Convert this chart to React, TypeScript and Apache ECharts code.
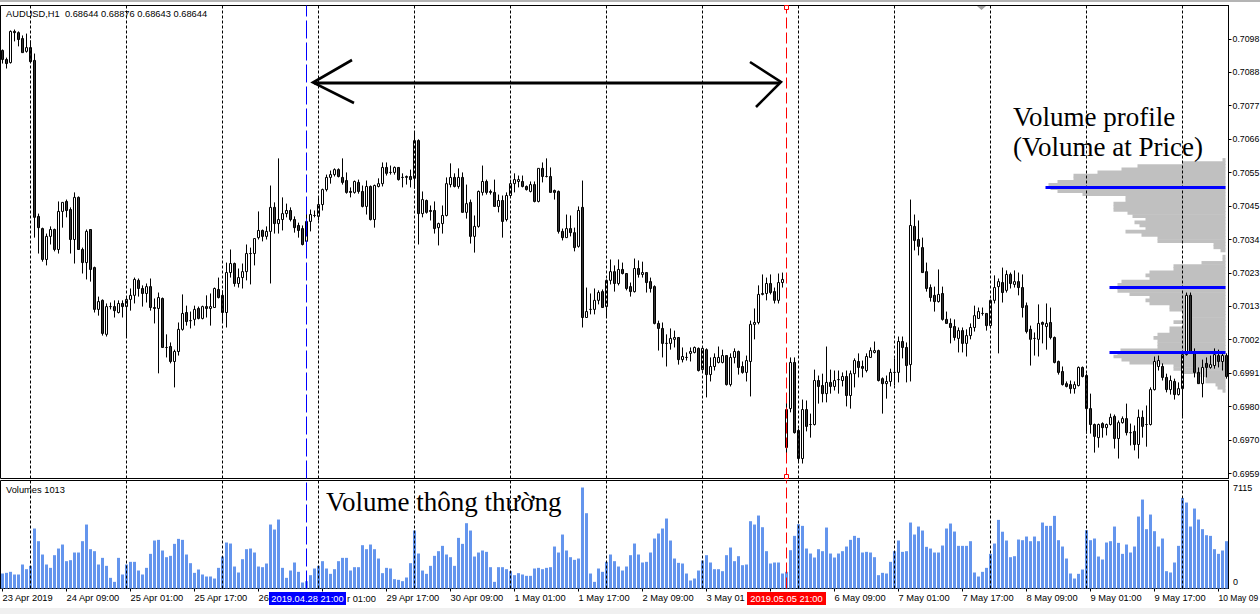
import React, { useEffect, useRef } from 'react';
import * as echarts from 'echarts';

// AUDUSD H1 prices, stored in points (1 point = 0.00001)
const OPEN_PTS = [
  70946,70917,70907,71007,71003,70984,70943,70955,70914,70414,
  70375,70276,70350,70372,70308,70430,70462,70436,70340,70475,
  70308,70266,70372,70250,70116,70145,70036,70125,70125,70106,
  70135,70125,70148,70161,70209,70183,70167,70189,70122,70119,
  70151,69994,69997,69949,69981,70052,70106,70080,70084,70119,
  70087,70125,70119,70122,70180,70161,70106,70234,70263,70199,
  70218,70237,70295,70295,70346,70369,70350,70366,70443,70391,
  70404,70423,70433,70404,70385,70375,70334,70398,70417,70414,
  70452,70500,70539,70548,70564,70539,70529,70494,70491,70523,
  70494,70446,70510,70404,70510,70519,70571,70555,70555,70571,
  70539,70539,70542,70536,70657,70423,70465,70433,70433,70378,
  70391,70417,70516,70539,70510,70539,70427,70459,70350,70382,
  70491,70526,70494,70491,70446,70465,70404,70481,70519,70526,
  70526,70510,70494,70516,70462,70568,70542,70542,70497,70494,
  70366,70346,70375,70362,70318,70443,70090,70116,70116,70145,
  70173,70125,70209,70237,70199,70244,70231,70189,70173,70247,
  70228,70234,70205,70189,70071,70055,70007,70007,70020,70026,
  69955,69962,69975,69978,69991,69923,69987,69907,69933,69946,
  69946,69968,69875,69962,69981,69933,69914,69949,70068,70074,
  70164,70167,70199,70173,70145,70202,69673,69798,69946,69728,
  69638,69795,69747,69747,69888,69872,69846,69882,69869,69891,
  69888,69901,69840,69910,69949,69933,69920,69962,69978,69984,
  69894,69878,69885,69914,69914,70013,69994,69939,70382,70340,
  70314,70237,70186,70161,70141,70167,70084,70071,70061,70023,
  70048,70007,70032,70058,70087,70103,70103,70064,70145,70189,
  70202,70177,70228,70196,70205,70186,70128,70052,70023,70020,
  70074,70061,70074,70026,69949,69917,69878,69875,69862,69872,
  69930,69904,69798,69747,69705,69750,69737,69747,69773,69702,
  69753,69766,69721,69725,69683,69770,69747,69747,69859,69933,
  69933,69898,69859,69885,69843,69862,69971,70161,69978,69914,
  69878,69943,69930,69936,69968,69949,69968,
];
const CLOSE_PTS = [
  70917,70904,71007,71003,70981,70939,70955,70910,70411,70378,
  70276,70350,70372,70308,70430,70459,70433,70340,70475,70308,
  70266,70366,70244,70116,70141,70039,70125,70125,70112,70135,
  70125,70148,70161,70212,70183,70167,70189,70122,70119,70154,
  69994,69994,69949,69981,70052,70103,70077,70080,70116,70087,
  70125,70119,70125,70183,70154,70106,70234,70263,70199,70218,
  70237,70295,70295,70343,70369,70350,70366,70443,70391,70404,
  70423,70433,70404,70378,70369,70324,70398,70420,70417,70452,
  70500,70539,70548,70564,70542,70523,70491,70491,70526,70494,
  70446,70510,70404,70513,70519,70571,70552,70555,70571,70532,
  70539,70542,70532,70657,70423,70468,70427,70430,70375,70391,
  70417,70519,70539,70510,70539,70427,70455,70350,70382,70494,
  70526,70491,70491,70446,70465,70398,70481,70519,70532,70532,
  70510,70500,70516,70462,70568,70542,70542,70491,70491,70366,
  70346,70375,70362,70314,70433,70090,70109,70116,70145,70170,
  70122,70209,70237,70199,70244,70231,70183,70173,70247,70228,
  70234,70202,70183,70071,70055,70007,70007,70023,70026,69955,
  69965,69962,69981,69994,69920,69991,69907,69933,69962,69962,
  69968,69875,69962,69981,69930,69914,69952,70068,70074,70164,
  70167,70199,70170,70145,70202,70212,69795,69946,69721,69638,
  69795,69741,69747,69888,69869,69846,69882,69869,69888,69891,
  69901,69840,69910,69952,69930,69927,69965,69984,69984,69888,
  69878,69885,69914,69914,70013,69994,69936,70385,70337,70318,
  70234,70183,70154,70141,70164,70084,70071,70058,70026,70048,
  70007,70032,70058,70096,70109,70103,70064,70145,70186,70205,
  70170,70228,70199,70205,70186,70122,70045,70020,70023,70071,
  70068,70071,70026,69946,69914,69875,69869,69862,69875,69930,
  69901,69798,69747,69709,69747,69737,69747,69770,69702,69753,
  69766,69721,69721,69683,69770,69741,69747,69859,69949,69952,
  69898,69859,69888,69843,69862,69971,70161,69978,69914,69878,
  69930,69930,69939,69971,69949,69968,69901,
];
const LOW_PTS = [
  70904,70888,70904,70975,70959,70939,70939,70910,70346,70295,
  70269,70257,70324,70302,70295,70378,70411,70295,70263,70308,
  70231,70212,70205,70106,70096,70032,70029,70116,70090,70103,
  70090,70026,70112,70135,70157,70125,70138,70112,70071,69911,
  69994,69962,69943,69866,69968,70048,70064,70055,70064,70084,
  70084,70090,70064,70122,70151,70074,70058,70218,70189,70186,
  70183,70209,70196,70257,70340,70334,70340,70199,70359,70359,
  70369,70411,70398,70362,70346,70321,70324,70366,70411,70401,
  70433,70494,70519,70542,70539,70516,70487,70475,70487,70487,
  70443,70420,70401,70378,70507,70510,70545,70548,70548,70529,
  70507,70516,70507,70503,70324,70411,70423,70401,70359,70321,
  70359,70414,70507,70507,70503,70427,70407,70327,70298,70378,
  70481,70484,70484,70446,70427,70346,70398,70478,70491,70507,
  70507,70497,70491,70459,70459,70523,70539,70491,70468,70359,
  70337,70346,70350,70302,70314,70058,70090,70100,70100,70132,
  70122,70093,70196,70173,70193,70228,70177,70157,70170,70218,
  70218,70170,70170,70068,69984,69962,69933,69987,69994,69939,
  69946,69952,69949,69975,69917,69920,69834,69885,69920,69943,
  69943,69872,69869,69943,69907,69910,69885,69837,70020,70068,
  70161,70145,70164,70135,70135,70186,69648,69786,69718,69625,
  69622,69725,69705,69744,69814,69818,69818,69846,69856,69846,
  69869,69805,69798,69866,69898,69898,69914,69962,69975,69885,
  69782,69830,69869,69872,69882,69959,69882,69885,70305,70289,
  70234,70173,70141,70109,70138,70080,70071,70007,70016,69978,
  69978,69965,70020,70045,70087,70096,70048,70058,70135,69975,
  70138,70170,70183,70186,70161,70090,70039,69936,69968,69965,
  70007,69987,70020,69943,69907,69872,69866,69846,69846,69869,
  69898,69718,69718,69657,69673,69705,69712,69744,69670,69638,
  69750,69712,69680,69664,69638,69705,69676,69744,69856,69920,
  69888,69850,69843,69827,69840,69770,69968,69975,69898,69878,
  69834,69898,69926,69926,69930,69920,69894,
];
const HIGH_PTS = [
  70949,70923,71010,71013,71007,70994,71000,70978,70936,70423,
  70378,70359,70382,70375,70462,70459,70468,70443,70491,70478,
  70314,70372,70372,70253,70157,70148,70135,70138,70145,70145,
  70145,70154,70183,70218,70215,70193,70199,70215,70151,70170,
  70154,70036,70010,69987,70074,70164,70128,70109,70128,70125,
  70128,70161,70167,70186,70218,70177,70266,70308,70266,70247,
  70263,70324,70314,70343,70430,70372,70382,70513,70459,70600,
  70475,70455,70443,70414,70394,70385,70449,70436,70433,70475,
  70503,70548,70561,70568,70568,70600,70555,70507,70529,70532,
  70513,70529,70513,70516,70536,70587,70587,70577,70574,70571,
  70552,70545,70564,70686,70661,70494,70468,70449,70462,70394,
  70449,70539,70584,70552,70568,70555,70516,70468,70417,70497,
  70577,70532,70500,70532,70484,70481,70491,70532,70552,70545,
  70545,70513,70526,70526,70568,70587,70600,70571,70500,70497,
  70375,70420,70417,70378,70446,70529,70186,70167,70183,70177,
  70180,70212,70276,70257,70276,70266,70231,70202,70279,70273,
  70269,70234,70218,70193,70080,70074,70036,70055,70048,70026,
  69994,69978,69994,69997,69994,69994,69991,69962,69975,69997,
  69987,69968,69975,69991,69984,69949,69968,70080,70119,70193,
  70228,70218,70228,70186,70231,70234,69834,69962,69962,69734,
  69827,69824,69782,69923,69904,69910,69997,69923,69920,69920,
  69914,69920,69920,69959,69975,69952,69975,69994,70013,69987,
  69898,69904,69926,69959,70029,70029,70010,70468,70420,70401,
  70346,70266,70196,70189,70244,70189,70109,70087,70084,70058,
  70058,70052,70071,70128,70122,70122,70103,70148,70225,70215,
  70250,70241,70234,70241,70234,70228,70138,70064,70042,70132,
  70077,70135,70122,70029,69952,69933,69885,69888,69885,69933,
  69933,69910,69846,69750,69750,69754,69750,69782,69779,69760,
  69773,69814,69750,69744,69795,69792,69808,69866,69965,69968,
  69943,69910,69904,69894,69882,69975,70170,70170,69991,69930,
  69955,69962,69968,69991,69987,69978,69975,
];
// Tick volume per bar
const VOLUME = [
  1056,1103,1174,986,986,1690,1361,1596,4225,3333,
  2394,1690,1455,2347,2816,3098,1925,1995,2535,2535,
  3333,4506,2769,2629,1690,2159,1596,751,469,2159,
  986,1690,1878,1878,1267,986,1455,2441,3380,3427,
  2676,2206,2300,3145,3497,3427,2394,1784,1103,1338,
  986,845,845,704,1455,2253,3239,3168,1549,1127,
  2065,2769,2816,2535,1549,1502,1760,4506,4154,4858,
  1455,751,1267,1831,1174,422,516,939,1408,1596,
  1925,1408,1033,1361,1925,2159,2159,1267,1502,1502,
  3051,2769,3098,2769,2112,1080,1455,1408,657,610,
  516,775,1784,4084,2464,1267,1033,1596,2300,2629,
  3004,2394,2206,1596,3567,3145,4600,4084,2253,2535,
  2676,2582,1502,469,1502,1502,1361,1220,939,1080,
  986,892,892,1408,1455,1361,1455,1502,2957,2535,
  3802,2676,2206,2018,2112,7115,5304,1056,469,1408,
  1174,1878,2394,1925,1549,1267,1549,2347,3168,2394,
  1831,1878,2535,3521,3873,4225,4929,3380,2112,1807,
  1760,1056,563,704,1267,1971,2347,1831,1361,1361,
  1220,2347,2887,1925,2277,1643,1690,4741,4506,5140,
  4318,2629,1760,1831,1831,1056,1174,2699,3708,4530,
  4412,2816,2464,2183,2769,2629,4295,2464,2183,2464,
  2629,2957,3427,3708,3567,2535,2582,2535,2206,939,
  1103,1056,1878,2629,3380,2582,2629,4647,3802,4365,
  4084,2934,2816,2535,2535,3028,4225,4577,4013,3004,
  3004,3004,3333,1127,845,1174,1455,2441,3168,4835,
  4000,3380,2206,2277,3450,3403,3661,3333,3661,3333,
  4647,4412,4412,5116,3403,2957,2112,1056,704,1033,
  1338,4107,3403,3521,2253,2042,3239,3333,4365,3215,
  2441,3098,2535,2957,5070,6266,4178,5210,4037,2957,
  3521,1220,1127,1831,3004,6384,6055,4365,5633,4858,
  4178,3755,3708,2769,2441,2676,3333,
];
// x axis tick labels, one every 16 bars
const TIME_TICKS = [
  '23 Apr 2019', '24 Apr 09:00', '25 Apr 01:00', '25 Apr 17:00', '26 Apr 09:00',
  '29 Apr 01:00', '29 Apr 17:00', '30 Apr 09:00', '1 May 01:00', '1 May 17:00',
  '2 May 09:00', '3 May 01:00', '3 May 17:00', '6 May 09:00', '7 May 01:00',
  '7 May 17:00', '8 May 09:00', '9 May 01:00', '9 May 17:00', '10 May 09:00',
];
// parts of tick labels left visible (next to the date boxes, and at the right edge)
const PARTIAL_TICKS: Record<number, string> = { 4: '26', 5: '', 11: '3 May 01', 12: '', 19: '{s|10 May 09}' };
const PARTIAL_TAIL = 'r 01:00';
const DAY_STARTS = [7, 31, 55, 79, 103, 127, 151, 175, 199, 223, 247, 271, 295];
const BLUE_BAR = 76;
const BLUE_LABEL = '2019.04.28 21:00';
const RED_BAR = 196;
const RED_LABEL = '2019.05.05 21:00';
const PRICE_TICKS = [0.6959, 0.69697, 0.69804, 0.69911, 0.70019, 0.70126, 0.70233, 0.7034, 0.70447, 0.70554, 0.70662, 0.70769, 0.70876, 0.70983];

// Volume profile (volume at price), bins of 0.0001 starting at 0.6984
const PROFILE_BASE = 0.6984;
const PROFILE_STEP = 0.0001;
const PROFILE_VOL = [
  0,3,8,10,20,20,25,43,52,52,
  96,104,112,108,105,68,68,68,72,68,
  56,56,43,52,43,43,43,56,56,76,
  80,76,96,108,108,108,104,76,80,76,
  52,52,24,3,3,0,5,12,12,68,
  68,84,100,80,86,91,80,93,98,112,
  112,112,100,100,143,168,175,177,168,152,
  152,128,104,88,43,3,0,
];
const POC_PRICE = [0.70507, 0.70186, 0.69978];
const POC_VOL = [180, 116, 116];

const SMALL = "'Liberation Sans', Arial, sans-serif";
const SERIF = "'Liberation Serif', 'Times New Roman', serif";

function buildOption() {
  const N = OPEN_PTS.length;
  const cats = Array.from({ length: N }, (_, i) => String(i));
  const candles = OPEN_PTS.map((o, i) => [o / 1e5, CLOSE_PTS[i] / 1e5, LOW_PTS[i] / 1e5, HIGH_PTS[i] / 1e5]);
  const volMax = Math.max(...VOLUME);
  const priceMin = 0.69574;
  const priceMax = 0.7109;
  const volAxisMax = volMax * 108 / 101;
  const every16 = (i: number) => i % 16 === 0;

  const dayLines = DAY_STARTS.map((b) => ({ xAxis: b, lineStyle: { color: '#000', type: [3, 2], width: 1 } }));
  const specialLines = [
    { xAxis: BLUE_BAR, lineStyle: { color: '#0000ff', type: [18, 4], width: 1 } },
    { xAxis: RED_BAR, lineStyle: { color: '#ff0000', type: [11, 4], width: 1 } },
  ];
  const markLine = {
    silent: true,
    symbol: ['none', 'none'],
    label: { show: false },
    animation: false,
    data: [...dayLines, ...specialLines],
  };

  const profileData = PROFILE_VOL.map((v, k) => [PROFILE_BASE + k * PROFILE_STEP, PROFILE_BASE + (k + 1) * PROFILE_STEP, v]);
  const pocData = POC_PRICE.map((p, i) => [p, POC_VOL[i]]);

  const txt = (text: string, x: number, y: number, font: string, extra: any = {}) => ({
    type: 'text',
    x,
    y,
    z: 60,
    silent: true,
    style: {
      text,
      font,
      fill: '#000',
      verticalAlign: 'middle',
      textVerticalAlign: 'middle',
      align: 'left',
      textAlign: 'left',
      ...extra,
    },
  });

  const gridBase = { outerBoundsMode: 'none', containLabel: false };

  return {
    animation: false,
    backgroundColor: '#ffffff',
    grid: [
      { ...gridBase, left: 0.5, top: 5.5, width: 1228, height: 473, show: true, borderColor: '#000', borderWidth: 1, backgroundColor: 'transparent' },
      { ...gridBase, left: 0.5, top: 480.5, width: 1228, height: 108, show: true, borderColor: '#000', borderWidth: 1, backgroundColor: 'transparent' },
      { ...gridBase, left: 0.5, top: 5.5, width: 1225, height: 473 },
    ],
    xAxis: [
      {
        type: 'category', gridIndex: 0, data: cats, boundaryGap: true,
        axisLine: { show: false }, axisTick: { show: false }, axisLabel: { show: false }, splitLine: { show: false },
      },
      {
        type: 'category', gridIndex: 1, data: cats, boundaryGap: true,
        axisLine: { show: true, lineStyle: { color: '#000', width: 1 } },
        axisTick: { show: true, alignWithLabel: true, interval: every16, length: 3, lineStyle: { color: '#000' } },
        axisLabel: {
          show: true,
          interval: every16,
          formatter: (_v: string, idx: number) => {
            if (idx % 16 !== 0) return '';
            const k = idx / 16;
            if (k in PARTIAL_TICKS) return PARTIAL_TICKS[k];
            return TIME_TICKS[k] ?? '';
          },
          align: 'left',
          color: '#000',
          fontSize: 9.3,
          fontFamily: SMALL,
          margin: 5,
          rich: { s: { fontSize: 8.5, fontFamily: SMALL, color: '#000' } },
        },
        splitLine: { show: false },
      },
      { type: 'value', gridIndex: 2, inverse: true, min: 0, max: 1225, show: false },
    ],
    yAxis: [
      {
        type: 'value', gridIndex: 0, position: 'right', min: priceMin, max: priceMax, scale: true,
        splitLine: { show: false },
        axisLine: { show: true, lineStyle: { color: '#000' } },
        axisTick: { show: true, customValues: PRICE_TICKS, length: 3, inside: false, lineStyle: { color: '#000' } },
        axisLabel: {
          show: true, customValues: PRICE_TICKS, formatter: (v: number) => v.toFixed(4),
          color: '#000', fontSize: 8.8, fontFamily: SMALL, margin: 4,
        },
      },
      {
        type: 'value', gridIndex: 1, position: 'right', min: 0, max: volAxisMax,
        splitLine: { show: false }, axisLine: { show: true, lineStyle: { color: '#000' } },
        axisTick: { show: false }, axisLabel: { show: false },
      },
      { type: 'value', gridIndex: 2, min: priceMin, max: priceMax, show: false },
    ],
    series: [
      {
        type: 'custom', name: 'profile', xAxisIndex: 2, yAxisIndex: 2, z: 1, silent: true,
        encode: { x: 2, y: [0, 1] },
        data: profileData,
        renderItem: (_p: any, api: any) => {
          const lo = api.value(0);
          const hi = api.value(1);
          const w = api.value(2);
          if (!w) return null;
          const a = api.coord([0, hi]);
          const b = api.coord([w, lo]);
          return {
            type: 'rect',
            shape: { x: b[0], y: a[1] - 0.3, width: a[0] - b[0], height: b[1] - a[1] + 0.6 },
            style: { fill: '#c0c0c0' },
          };
        },
      },
      {
        type: 'candlestick', name: 'AUDUSD', xAxisIndex: 0, yAxisIndex: 0, z: 2,
        data: candles, barWidth: 2,
        itemStyle: { color: '#ffffff', color0: '#333333', borderColor: '#000000', borderColor0: '#000000', borderWidth: 1 },
        markLine,
      },
      {
        type: 'custom', name: 'poc', xAxisIndex: 2, yAxisIndex: 2, z: 6, silent: true,
        encode: { x: 1, y: 0 },
        data: pocData,
        renderItem: (_p: any, api: any) => {
          const p = api.value(0);
          const w = api.value(1);
          const a = api.coord([0, p]);
          const b = api.coord([w, p]);
          return {
            type: 'rect',
            shape: { x: b[0], y: a[1] - 1.5, width: a[0] - b[0], height: 3 },
            style: { fill: '#0000ff' },
          };
        },
      },
      {
        type: 'bar', name: 'Volumes', xAxisIndex: 1, yAxisIndex: 1, z: 2,
        data: VOLUME, barWidth: 3,
        itemStyle: { color: '#6495ed' },
        markLine,
      },
    ],
    graphic: [
      { type: 'rect', z: 60, silent: true, shape: { x: 0, y: 0, width: 1260, height: 2 }, style: { fill: '#b4b4b4' } },
      { type: 'rect', z: 60, silent: true, shape: { x: 0, y: 608, width: 1260, height: 6 }, style: { fill: '#f0f0f0' } },
      { type: 'polygon', z: 60, silent: true, shape: { points: [[977, 6], [986, 6], [981.5, 10]] }, style: { fill: '#a0a0a0' } },
      txt('AUDUSD,H1  0.68644 0.68876 0.68643 0.68644', 6, 13.5, `9.3px ${SMALL}`),
      txt(`Volumes 1013`, 6, 490, `9.3px ${SMALL}`),
      txt(String(volMax), 1233, 488, `9px ${SMALL}`),
      txt('0', 1233, 582, `9px ${SMALL}`),
      txt(PARTIAL_TAIL, 347, 598.5, `9.3px ${SMALL}`),
      // arrow
      { type: 'line', z: 60, silent: true, shape: { x1: 314, y1: 83, x2: 779, y2: 83 }, style: { stroke: '#000', lineWidth: 3 } },
      { type: 'polyline', z: 60, silent: true, shape: { points: [[352, 60], [313, 82.5], [354, 103]] }, style: { stroke: '#000', lineWidth: 2.6, fill: 'none' } },
      { type: 'polyline', z: 60, silent: true, shape: { points: [[750, 62], [781, 82], [756, 107]] }, style: { stroke: '#000', lineWidth: 2.6, fill: 'none' } },
      // annotations
      txt('Volume profile', 1013, 116.5, `27px ${SERIF}`),
      txt('(Volume at Price)', 1013, 146.5, `27px ${SERIF}`),
      txt('Volume thông thường', 326, 501.5, `27px ${SERIF}`),
      // date boxes
      { type: 'rect', z: 70, silent: true, shape: { x: 269, y: 592, width: 77, height: 13 }, style: { fill: '#0000ff' } },
      { ...txt(BLUE_LABEL, 307.5, 598.5, `9.3px ${SMALL}`, { fill: '#ffffff', align: 'center', textAlign: 'center' }), z: 71 },
      { type: 'rect', z: 70, silent: true, shape: { x: 747, y: 592, width: 79, height: 13 }, style: { fill: '#ff0000' } },
      { ...txt(RED_LABEL, 786.5, 598.5, `9.3px ${SMALL}`, { fill: '#ffffff', align: 'center', textAlign: 'center' }), z: 71 },
      // selection handles of red line
      { type: 'rect', z: 70, silent: true, shape: { x: 784.5, y: 5.5, width: 4, height: 4 }, style: { fill: '#ffffff', stroke: '#ff0000', lineWidth: 1 } },
      { type: 'rect', z: 70, silent: true, shape: { x: 784.5, y: 474.5, width: 4, height: 4 }, style: { fill: '#ffffff', stroke: '#ff0000', lineWidth: 1 } },
    ],
  };
}

export default function App() {
  const ref = useRef<HTMLDivElement>(null);
  useEffect(() => {
    if (!ref.current) return;
    const chart = echarts.init(ref.current, undefined, { renderer: 'svg' });
    chart.setOption(buildOption() as any);
    return () => {
      chart.dispose();
    };
  }, []);
  return (
    <div
      ref={ref}
      style={{ position: 'absolute', left: 0, top: 0, width: 1260, height: 614, background: '#ffffff' }}
    />
  );
}
